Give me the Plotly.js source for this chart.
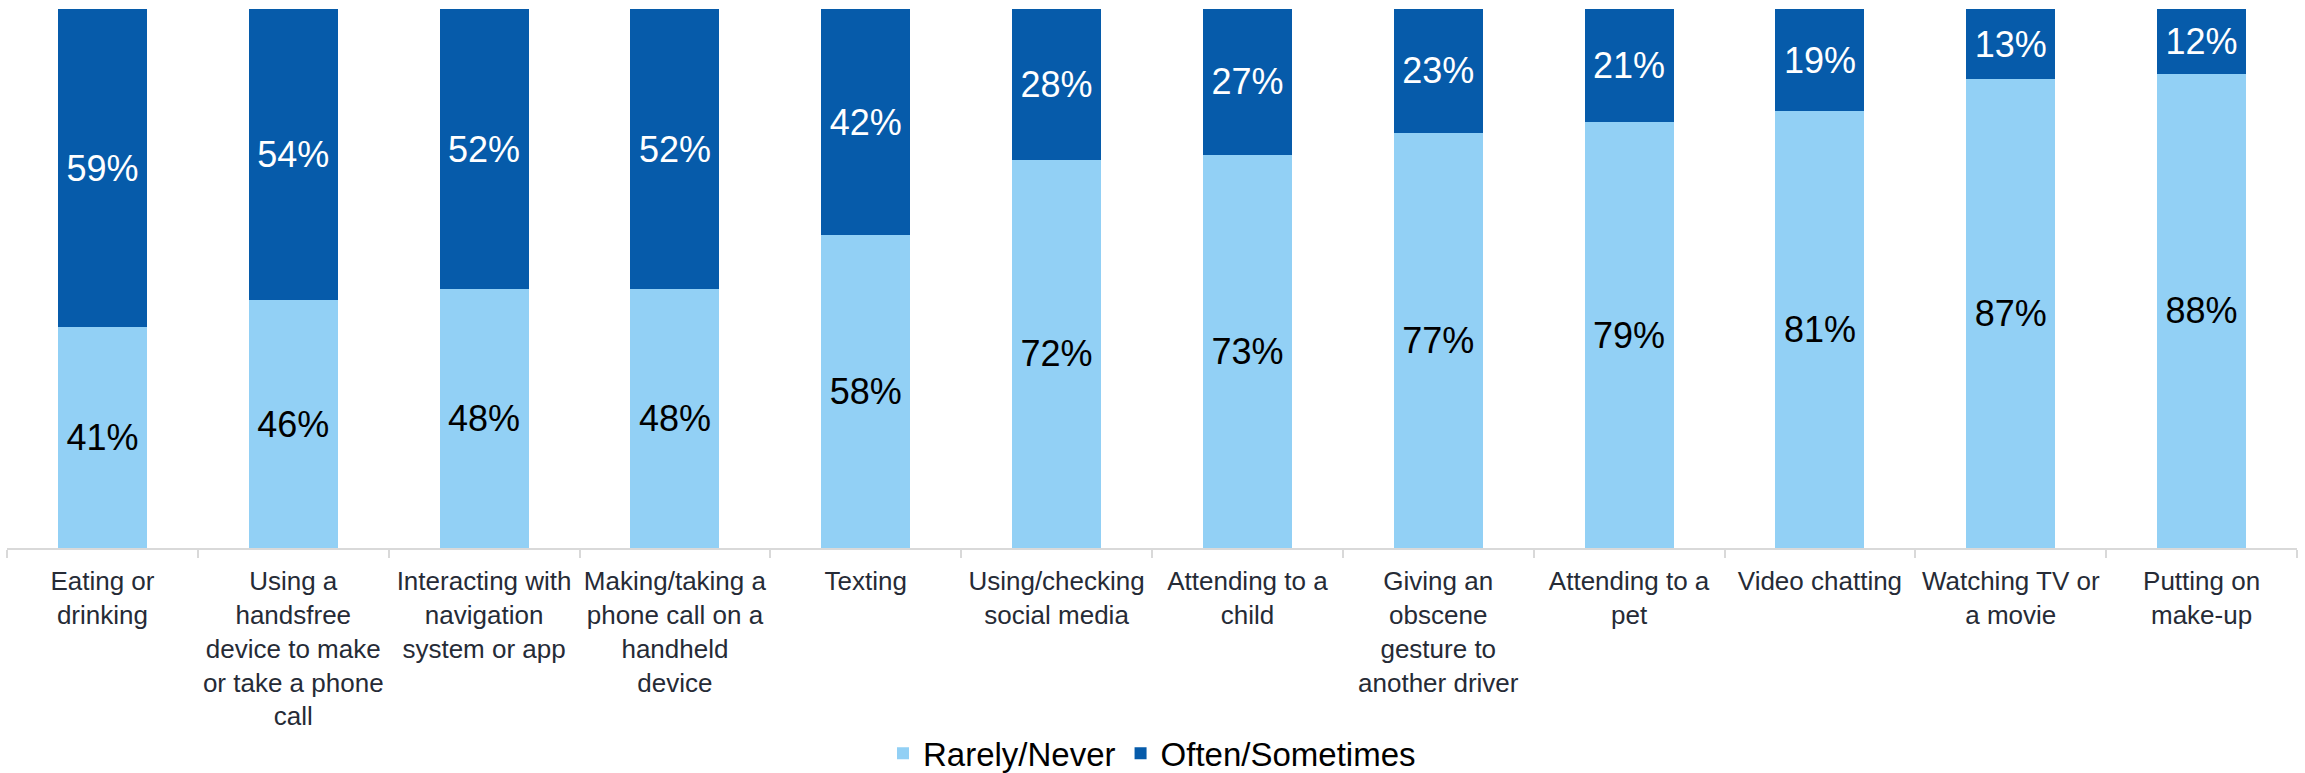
<!DOCTYPE html>
<html>
<head>
<meta charset="utf-8">
<script src="https://cdn.plot.ly/plotly-3.0.1.min.js"></script>
<style>html,body{margin:0;padding:0;background:#fff;}#chart{width:2305px;height:773px;}</style>
</head>
<body>
<div id="chart"></div>
<script>
const categories = [
  "Eating or<br>drinking",
  "Using a<br>handsfree<br>device to make<br>or take a phone<br>call",
  "Interacting with<br>navigation<br>system or app",
  "Making/taking a<br>phone call on a<br>handheld<br>device",
  "Texting",
  "Using/checking<br>social media",
  "Attending to a<br>child",
  "Giving an<br>obscene<br>gesture to<br>another driver",
  "Attending to a<br>pet",
  "Video chatting",
  "Watching TV or<br>a movie",
  "Putting on<br>make-up"
];
const rarelyNever = [41, 46, 48, 48, 58, 72, 73, 77, 79, 81, 87, 88];
const oftenSometimes = [59, 54, 52, 52, 42, 28, 27, 23, 21, 19, 13, 12];

const FONT = '"Liberation Sans", Arial, sans-serif';

const traces = [
  {
    type: 'bar', name: 'Rarely/Never', x: categories, y: rarelyNever,
    marker: {color: '#92D0F5'},
    texttemplate: '%{y}%', textposition: 'inside', insidetextanchor: 'middle',
    constraintext: 'none',
    textfont: {family: FONT, size: 36, color: '#000000'},
    hoverinfo: 'skip'
  },
  {
    type: 'bar', name: 'Often/Sometimes', x: categories, y: oftenSometimes,
    marker: {color: '#065BAA'},
    texttemplate: '%{y}%', textposition: 'inside', insidetextanchor: 'middle',
    constraintext: 'none',
    textfont: {family: FONT, size: 36, color: '#ffffff'},
    hoverinfo: 'skip'
  }
];

const layout = {
  width: 2305, height: 773,
  margin: {l: 7, r: 8, t: 9, b: 225, pad: 0, autoexpand: false},
  barmode: 'stack',
  bargap: 0.534,
  paper_bgcolor: '#ffffff', plot_bgcolor: '#ffffff',
  font: {family: FONT, color: '#262b36'},
  xaxis: {
    type: 'category',
    tickson: 'boundaries',
    tickangle: 0,
    ticklabelstandoff: 9,
    ticks: 'outside', ticklen: 8, tickwidth: 2, tickcolor: '#d9d9d9',
    showline: true, linecolor: '#d9d9d9', linewidth: 2,
    showgrid: false, zeroline: false,
    tickfont: {family: FONT, size: 26, color: '#262b36'},
    fixedrange: true,
    automargin: false
  },
  yaxis: {
    range: [0, 100], visible: false, showgrid: false, zeroline: false, fixedrange: true
  },
  showlegend: true,
  legend: {
    orientation: 'h', x: 0.5, xanchor: 'center',
    yref: 'paper', y: -0.381, yanchor: 'middle',
    font: {family: FONT, size: 33, color: '#000000'},
    traceorder: 'normal'
  }
};

Plotly.newPlot('chart', traces, layout, {displayModeBar: false, staticPlot: true});
</script>
</body>
</html>
